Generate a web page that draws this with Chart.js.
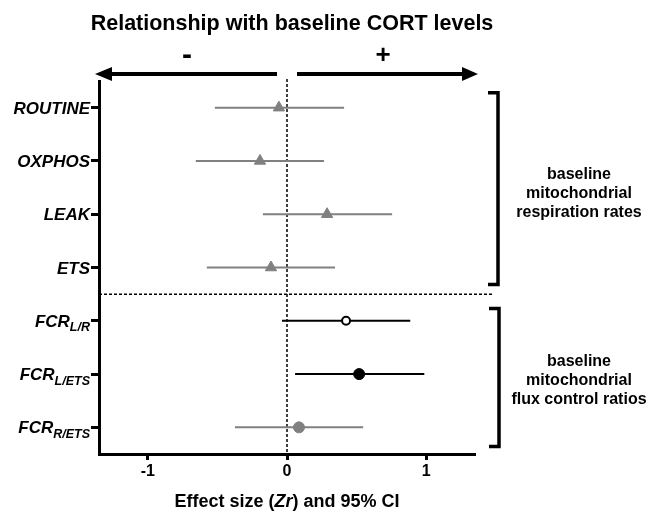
<!DOCTYPE html>
<html>
<head>
<meta charset="utf-8">
<script src="https://cdn.jsdelivr.net/npm/chart.js@4"></script>
<style>
  html, body { margin: 0; padding: 0; background: #fff; }
  canvas { display: block; }
</style>
</head>
<body>
<canvas id="c" width="652" height="511"></canvas>
<script>
// ---- data ----
const categories = ['ROUTINE', 'OXPHOS', 'LEAK', 'ETS', 'FCR_L/R', 'FCR_L/ETS', 'FCR_R/ETS'];
const labelMain = ['ROUTINE', 'OXPHOS', 'LEAK', 'ETS', 'FCR', 'FCR', 'FCR'];
const labelSub = ['', '', '', '', 'L/R', 'L/ETS', 'R/ETS'];
const estimates = [-0.058, -0.194, 0.288, -0.115, 0.424, 0.518, 0.086];
const lower = [-0.518, -0.655, -0.173, -0.576, -0.036, 0.058, -0.374];
const upper = [0.410, 0.266, 0.755, 0.345, 0.885, 0.986, 0.547];
const markerStyle = ['triangle', 'triangle', 'triangle', 'triangle', 'circle', 'circle', 'circle'];
const markerKind = ['gray', 'gray', 'gray', 'gray', 'open', 'black', 'gray'];
const xTicks = [-1, 0, 1];
const titleText = 'Relationship with baseline CORT levels';
const groupLabels = [
  ['baseline', 'mitochondrial', 'respiration rates'],
  ['baseline', 'mitochondrial', 'flux control ratios']
];

const GRAY = '#808080';
const FONT = '"Liberation Sans", Arial, Helvetica, sans-serif';
const colorOf = k => (k === 'gray' ? GRAY : '#000');

const datasets = [];
datasets.push({
  type: 'scatter',
  data: estimates.map((v, i) => ({ x: v, y: i })),
  pointStyle: markerStyle,
  pointRadius: markerStyle.map((s, i) => (markerKind[i] === 'open' ? 4 : (s === 'triangle' ? 6.5 : 5.5))),
  pointHoverRadius: markerStyle.map((s, i) => (markerKind[i] === 'open' ? 4 : (s === 'triangle' ? 6.5 : 5.5))),
  backgroundColor: markerKind.map(k => (k === 'open' ? '#fff' : colorOf(k))),
  borderColor: markerKind.map(k => colorOf(k)),
  borderWidth: markerKind.map(k => (k === 'open' ? 2 : 1)),
  order: 0
});
categories.forEach((c, i) => {
  datasets.push({
    type: 'scatter',
    showLine: true,
    data: [{ x: lower[i], y: i }, { x: upper[i], y: i }],
    borderColor: colorOf(markerKind[i] === 'open' ? 'black' : markerKind[i]),
    borderWidth: 2,
    pointRadius: 0,
    pointHoverRadius: 0,
    order: 1
  });
});

const decor = {
  id: 'decor',
  beforeDatasetsDraw(chart) {
    const { ctx, chartArea, scales } = chart;
    const x0 = scales.x.getPixelForValue(0);
    ctx.save();
    ctx.strokeStyle = '#000';
    ctx.lineWidth = 1.5;
    ctx.setLineDash([3, 2]);
    ctx.beginPath();
    ctx.moveTo(x0, chartArea.top - 2);
    ctx.lineTo(x0, chartArea.bottom);
    ctx.stroke();
    const ys = scales.y.getPixelForValue(3.5);
    ctx.beginPath();
    ctx.moveTo(chartArea.left, ys);
    ctx.lineTo(chartArea.right + 17, ys);
    ctx.stroke();
    ctx.restore();
  },
  afterDraw(chart) {
    const { ctx, chartArea, scales } = chart;
    const x0 = scales.x.getPixelForValue(0);
    const ctr = (chartArea.left + chartArea.right) / 2;
    ctx.save();
    ctx.fillStyle = '#000';
    ctx.strokeStyle = '#000';

    // title
    ctx.font = 'bold 21.5px ' + FONT;
    ctx.textAlign = 'center';
    ctx.textBaseline = 'alphabetic';
    ctx.fillText(titleText, 292, 30);

    // arrows
    const ay = 74;
    ctx.lineWidth = 4;
    ctx.beginPath();
    ctx.moveTo(x0 - 10, ay); ctx.lineTo(chartArea.left + 12, ay);
    ctx.moveTo(x0 + 10, ay); ctx.lineTo(chartArea.right - 12, ay);
    ctx.stroke();
    ctx.beginPath();
    ctx.moveTo(chartArea.left - 4, ay);
    ctx.lineTo(chartArea.left + 13, ay - 7);
    ctx.lineTo(chartArea.left + 13, ay + 7);
    ctx.closePath();
    ctx.fill();
    ctx.beginPath();
    ctx.moveTo(chartArea.right + 3, ay);
    ctx.lineTo(chartArea.right - 13, ay - 7);
    ctx.lineTo(chartArea.right - 13, ay + 7);
    ctx.closePath();
    ctx.fill();
    ctx.textBaseline = 'middle';
    ctx.font = 'bold 30px ' + FONT;
    ctx.fillText('-', 187, 56);
    ctx.font = 'bold 26px ' + FONT;
    ctx.fillText('+', 383, 56);

    // y labels (with subscripts)
    ctx.textAlign = 'left';
    ctx.textBaseline = 'alphabetic';
    const rightX = chartArea.left - 9;
    categories.forEach((c, i) => {
      const y = scales.y.getPixelForValue(i);
      ctx.font = 'italic bold 12.5px ' + FONT;
      const ws = labelSub[i] ? ctx.measureText(labelSub[i]).width : 0;
      ctx.font = 'italic bold 17px ' + FONT;
      const wm = ctx.measureText(labelMain[i]).width;
      const xm = rightX - ws - wm;
      ctx.fillText(labelMain[i], xm, y + 6);
      if (labelSub[i]) {
        ctx.font = 'italic bold 12.5px ' + FONT;
        ctx.fillText(labelSub[i], xm + wm, y + 10.5);
      }
    });

    // x axis title with italic Zr
    const parts = [['Effect size (', 'bold'], ['Zr', 'italic bold'], [') and 95% CI', 'bold']];
    let total = 0;
    parts.forEach(p => { ctx.font = p[1] + ' 18px ' + FONT; total += ctx.measureText(p[0]).width; });
    let xx = ctr - total / 2;
    parts.forEach(p => {
      ctx.font = p[1] + ' 18px ' + FONT;
      ctx.fillText(p[0], xx, 507);
      xx += ctx.measureText(p[0]).width;
    });

    // brackets
    const brackets = [[-0.28, 3.32, 498], [3.77, 6.36, 499]];
    ctx.lineWidth = 3.5;
    ctx.lineJoin = 'miter';
    brackets.forEach(b => {
      const t = scales.y.getPixelForValue(b[0]);
      const btm = scales.y.getPixelForValue(b[1]);
      ctx.beginPath();
      ctx.moveTo(b[2] - 10, t);
      ctx.lineTo(b[2], t);
      ctx.lineTo(b[2], btm);
      ctx.lineTo(b[2] - 10, btm);
      ctx.stroke();
    });

    // group labels
    ctx.font = 'bold 16px ' + FONT;
    ctx.textAlign = 'center';
    ctx.textBaseline = 'middle';
    const groupCenters = [194, 381];
    groupLabels.forEach((lines, g) => {
      lines.forEach((s, k) => {
        ctx.fillText(s, 579, groupCenters[g] + (k - 1) * 19);
      });
    });
    ctx.restore();
  }
};

new Chart(document.getElementById('c'), {
  type: 'scatter',
  data: { datasets },
  options: {
    responsive: false,
    animation: false,
    devicePixelRatio: 1,
    layout: { padding: { top: 81, right: 177, left: 0, bottom: 0 } },
    plugins: { legend: { display: false }, tooltip: { enabled: false }, title: { display: false } },
    scales: {
      x: {
        type: 'linear',
        min: -1.35,
        max: 1.35,
        afterBuildTicks: s => { s.ticks = xTicks.map(v => ({ value: v })); },
        afterFit: s => { s.height = 57; },
        grid: { drawOnChartArea: false, drawTicks: true, tickLength: 6, tickWidth: 3, tickColor: '#000' },
        border: { display: true, color: '#000', width: 3 },
        ticks: { color: '#000', font: { family: FONT, size: 16, weight: 'bold' }, padding: 2, maxRotation: 0 }
      },
      y: {
        type: 'linear',
        reverse: true,
        min: -0.5,
        max: 6.5,
        afterBuildTicks: s => { s.ticks = categories.map((c, i) => ({ value: i })); },
        afterFit: s => { s.width = 99; },
        grid: { drawOnChartArea: false, drawTicks: true, tickLength: 8, tickWidth: 3, tickColor: '#000' },
        border: { display: true, color: '#000', width: 3 },
        ticks: { display: false }
      }
    }
  },
  plugins: [decor]
});
</script>
</body>
</html>
